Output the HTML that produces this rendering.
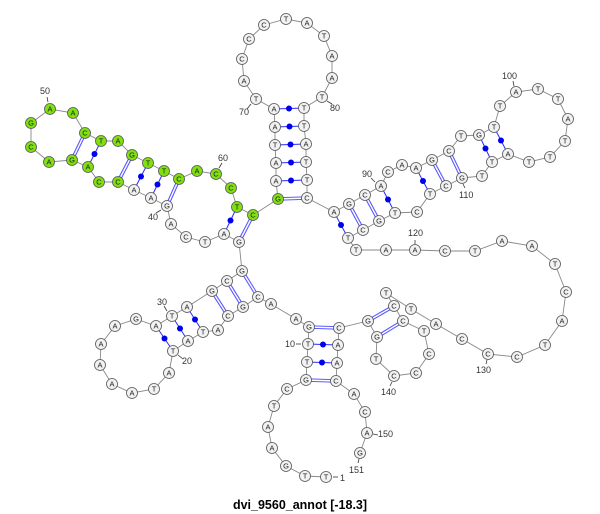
<!DOCTYPE html>
<html><head><meta charset="utf-8"><style>
html,body{margin:0;padding:0;background:#fff;}
svg{display:block;}
.n{fill:#f2f2f2;stroke:#555;stroke-width:0.8;}
.g{fill:#80e010;stroke:#555;stroke-width:0.8;}
.t{font-family:"Liberation Sans",sans-serif;font-size:7.5px;fill:#222;text-anchor:middle;}
.l{font-family:"Liberation Sans",sans-serif;font-size:9px;fill:#333;}
.bb{fill:none;stroke:#888;stroke-width:0.9;}
.d1{stroke:#5a5aff;stroke-width:3.6;}
.d2{stroke:#fff;stroke-width:1.4;}
.p{stroke:#2a2aff;stroke-width:1;}
.tk{stroke:#333;stroke-width:0.8;}
</style></head><body>
<svg width="600" height="514" viewBox="0 0 600 514" xmlns="http://www.w3.org/2000/svg">
<polyline class="bb" points="326,477 305,476 286,466 272,448 268,427 274,406 287,389 306,380 307,362 308,344 309,327 296,319 271,304 258,297 243,307 228,316 218,330 203,332 188,341 173,351 169,373 154,389 132,393 112,384 100,365 101,344 115,326 136,319 156,326 172,316 187,307 212,291 227,281 242,271 239,242 224,234 205,242 186,237 171,224 167,206 151,198 134,190 118,182 99,182 88,167 72,160 49,162 31,147 31,123 50,109 73,113 85,133 101,141 118,141 132,155 148,163 164,171 179,179 197,171 216,174 231,188 237,207 253,215 278,199 276,181 276,163 275,145 275,127 274,109 256,99 244,81 242,59 249,39 264,25 286,19 307,23 324,36 332,56 332,78 322,97 304,108 304,126 306,144 306,162 307,180 307,198 334,212 349,204 365,195 381,186 388,172 402,165 416,168 432,160 449,151 461,136 479,135 494,127 500,106 516,92 538,89 558,99 568,119 565,141 550,157 529,162 508,154 492,162 482,176 462,178 446,186 430,194 417,212 395,213 379,221 363,230 348,238 356,250 386,250 415,250 445,251 475,251 502,241 532,246 555,264 566,292 562,321 545,345 517,357 488,354 462,339 436,324 411,309 386,293 394,306 403,321 424,331 429,354 416,373 394,376 376,359 377,337 368,321 339,328 338,345 337,363 336,381 354,394 365,412 367,433 360,453"/>
<g>
<line class="d1" x1="306" y1="380" x2="336" y2="381"/><line class="d2" x1="306" y1="380" x2="336" y2="381"/>
<line class="d1" x1="309" y1="327" x2="339" y2="328"/><line class="d2" x1="309" y1="327" x2="339" y2="328"/>
<line class="d1" x1="258" y1="297" x2="242" y2="271"/><line class="d2" x1="258" y1="297" x2="242" y2="271"/>
<line class="d1" x1="243" y1="307" x2="227" y2="281"/><line class="d2" x1="243" y1="307" x2="227" y2="281"/>
<line class="d1" x1="228" y1="316" x2="212" y2="291"/><line class="d2" x1="228" y1="316" x2="212" y2="291"/>
<line class="d1" x1="239" y1="242" x2="253" y2="215"/><line class="d2" x1="239" y1="242" x2="253" y2="215"/>
<line class="d1" x1="167" y1="206" x2="179" y2="179"/><line class="d2" x1="167" y1="206" x2="179" y2="179"/>
<line class="d1" x1="118" y1="182" x2="132" y2="155"/><line class="d2" x1="118" y1="182" x2="132" y2="155"/>
<line class="d1" x1="72" y1="160" x2="85" y2="133"/><line class="d2" x1="72" y1="160" x2="85" y2="133"/>
<line class="d1" x1="278" y1="199" x2="307" y2="198"/><line class="d2" x1="278" y1="199" x2="307" y2="198"/>
<line class="d1" x1="349" y1="204" x2="363" y2="230"/><line class="d2" x1="349" y1="204" x2="363" y2="230"/>
<line class="d1" x1="365" y1="195" x2="379" y2="221"/><line class="d2" x1="365" y1="195" x2="379" y2="221"/>
<line class="d1" x1="432" y1="160" x2="446" y2="186"/><line class="d2" x1="432" y1="160" x2="446" y2="186"/>
<line class="d1" x1="449" y1="151" x2="462" y2="178"/><line class="d2" x1="449" y1="151" x2="462" y2="178"/>
<line class="d1" x1="394" y1="306" x2="368" y2="321"/><line class="d2" x1="394" y1="306" x2="368" y2="321"/>
<line class="d1" x1="403" y1="321" x2="377" y2="337"/><line class="d2" x1="403" y1="321" x2="377" y2="337"/>
</g>
<g fill="#0000ee">
<line class="p" x1="307" y1="362" x2="337" y2="363"/><circle cx="322" cy="362.5" r="3"/>
<line class="p" x1="308" y1="344" x2="338" y2="345"/><circle cx="323" cy="344.5" r="3"/>
<line class="p" x1="203" y1="332" x2="187" y2="307"/><circle cx="195" cy="319.5" r="3"/>
<line class="p" x1="188" y1="341" x2="172" y2="316"/><circle cx="180" cy="328.5" r="3"/>
<line class="p" x1="173" y1="351" x2="156" y2="326"/><circle cx="164.5" cy="338.5" r="3"/>
<line class="p" x1="224" y1="234" x2="237" y2="207"/><circle cx="230.5" cy="220.5" r="3"/>
<line class="p" x1="151" y1="198" x2="164" y2="171"/><circle cx="157.5" cy="184.5" r="3"/>
<line class="p" x1="134" y1="190" x2="148" y2="163"/><circle cx="141" cy="176.5" r="3"/>
<line class="p" x1="88" y1="167" x2="101" y2="141"/><circle cx="94.5" cy="154" r="3"/>
<line class="p" x1="276" y1="181" x2="307" y2="180"/><circle cx="291" cy="180.5" r="3"/>
<line class="p" x1="276" y1="163" x2="306" y2="162"/><circle cx="291" cy="162.5" r="3"/>
<line class="p" x1="275" y1="145" x2="306" y2="144"/><circle cx="290.5" cy="144.5" r="3"/>
<line class="p" x1="275" y1="127" x2="304" y2="126"/><circle cx="289.5" cy="126.5" r="3"/>
<line class="p" x1="274" y1="109" x2="304" y2="108"/><circle cx="289" cy="108.5" r="3"/>
<line class="p" x1="334" y1="212" x2="348" y2="238"/><circle cx="341" cy="225" r="3"/>
<line class="p" x1="381" y1="186" x2="395" y2="213"/><circle cx="388" cy="199.5" r="3"/>
<line class="p" x1="416" y1="168" x2="430" y2="194"/><circle cx="423" cy="181" r="3"/>
<line class="p" x1="479" y1="135" x2="492" y2="162"/><circle cx="485.5" cy="148.5" r="3"/>
<line class="p" x1="494" y1="127" x2="508" y2="154"/><circle cx="501" cy="140.5" r="3"/>
</g>
<g>
<circle class="n" cx="326" cy="477" r="5.5"/><text class="t" x="326" y="479.7">T</text>
<circle class="n" cx="305" cy="476" r="5.5"/><text class="t" x="305" y="478.7">T</text>
<circle class="n" cx="286" cy="466" r="5.5"/><text class="t" x="286" y="468.7">G</text>
<circle class="n" cx="272" cy="448" r="5.5"/><text class="t" x="272" y="450.7">A</text>
<circle class="n" cx="268" cy="427" r="5.5"/><text class="t" x="268" y="429.7">A</text>
<circle class="n" cx="274" cy="406" r="5.5"/><text class="t" x="274" y="408.7">T</text>
<circle class="n" cx="287" cy="389" r="5.5"/><text class="t" x="287" y="391.7">C</text>
<circle class="n" cx="306" cy="380" r="5.5"/><text class="t" x="306" y="382.7">G</text>
<circle class="n" cx="307" cy="362" r="5.5"/><text class="t" x="307" y="364.7">T</text>
<circle class="n" cx="308" cy="344" r="5.5"/><text class="t" x="308" y="346.7">T</text>
<circle class="n" cx="309" cy="327" r="5.5"/><text class="t" x="309" y="329.7">G</text>
<circle class="n" cx="296" cy="319" r="5.5"/><text class="t" x="296" y="321.7">A</text>
<circle class="n" cx="271" cy="304" r="5.5"/><text class="t" x="271" y="306.7">A</text>
<circle class="n" cx="258" cy="297" r="5.5"/><text class="t" x="258" y="299.7">C</text>
<circle class="n" cx="243" cy="307" r="5.5"/><text class="t" x="243" y="309.7">G</text>
<circle class="n" cx="228" cy="316" r="5.5"/><text class="t" x="228" y="318.7">C</text>
<circle class="n" cx="218" cy="330" r="5.5"/><text class="t" x="218" y="332.7">A</text>
<circle class="n" cx="203" cy="332" r="5.5"/><text class="t" x="203" y="334.7">T</text>
<circle class="n" cx="188" cy="341" r="5.5"/><text class="t" x="188" y="343.7">A</text>
<circle class="n" cx="173" cy="351" r="5.5"/><text class="t" x="173" y="353.7">T</text>
<circle class="n" cx="169" cy="373" r="5.5"/><text class="t" x="169" y="375.7">A</text>
<circle class="n" cx="154" cy="389" r="5.5"/><text class="t" x="154" y="391.7">T</text>
<circle class="n" cx="132" cy="393" r="5.5"/><text class="t" x="132" y="395.7">A</text>
<circle class="n" cx="112" cy="384" r="5.5"/><text class="t" x="112" y="386.7">A</text>
<circle class="n" cx="100" cy="365" r="5.5"/><text class="t" x="100" y="367.7">A</text>
<circle class="n" cx="101" cy="344" r="5.5"/><text class="t" x="101" y="346.7">A</text>
<circle class="n" cx="115" cy="326" r="5.5"/><text class="t" x="115" y="328.7">A</text>
<circle class="n" cx="136" cy="319" r="5.5"/><text class="t" x="136" y="321.7">G</text>
<circle class="n" cx="156" cy="326" r="5.5"/><text class="t" x="156" y="328.7">A</text>
<circle class="n" cx="172" cy="316" r="5.5"/><text class="t" x="172" y="318.7">T</text>
<circle class="n" cx="187" cy="307" r="5.5"/><text class="t" x="187" y="309.7">A</text>
<circle class="n" cx="212" cy="291" r="5.5"/><text class="t" x="212" y="293.7">G</text>
<circle class="n" cx="227" cy="281" r="5.5"/><text class="t" x="227" y="283.7">C</text>
<circle class="n" cx="242" cy="271" r="5.5"/><text class="t" x="242" y="273.7">G</text>
<circle class="n" cx="239" cy="242" r="5.5"/><text class="t" x="239" y="244.7">G</text>
<circle class="n" cx="224" cy="234" r="5.5"/><text class="t" x="224" y="236.7">A</text>
<circle class="n" cx="205" cy="242" r="5.5"/><text class="t" x="205" y="244.7">T</text>
<circle class="n" cx="186" cy="237" r="5.5"/><text class="t" x="186" y="239.7">C</text>
<circle class="n" cx="171" cy="224" r="5.5"/><text class="t" x="171" y="226.7">A</text>
<circle class="n" cx="167" cy="206" r="5.5"/><text class="t" x="167" y="208.7">G</text>
<circle class="n" cx="151" cy="198" r="5.5"/><text class="t" x="151" y="200.7">A</text>
<circle class="n" cx="134" cy="190" r="5.5"/><text class="t" x="134" y="192.7">A</text>
<circle class="g" cx="118" cy="182" r="5.5"/><text class="t" x="118" y="184.7">C</text>
<circle class="g" cx="99" cy="182" r="5.5"/><text class="t" x="99" y="184.7">C</text>
<circle class="g" cx="88" cy="167" r="5.5"/><text class="t" x="88" y="169.7">A</text>
<circle class="g" cx="72" cy="160" r="5.5"/><text class="t" x="72" y="162.7">G</text>
<circle class="g" cx="49" cy="162" r="5.5"/><text class="t" x="49" y="164.7">A</text>
<circle class="g" cx="31" cy="147" r="5.5"/><text class="t" x="31" y="149.7">C</text>
<circle class="g" cx="31" cy="123" r="5.5"/><text class="t" x="31" y="125.7">G</text>
<circle class="g" cx="50" cy="109" r="5.5"/><text class="t" x="50" y="111.7">A</text>
<circle class="g" cx="73" cy="113" r="5.5"/><text class="t" x="73" y="115.7">A</text>
<circle class="g" cx="85" cy="133" r="5.5"/><text class="t" x="85" y="135.7">C</text>
<circle class="g" cx="101" cy="141" r="5.5"/><text class="t" x="101" y="143.7">T</text>
<circle class="g" cx="118" cy="141" r="5.5"/><text class="t" x="118" y="143.7">A</text>
<circle class="g" cx="132" cy="155" r="5.5"/><text class="t" x="132" y="157.7">G</text>
<circle class="g" cx="148" cy="163" r="5.5"/><text class="t" x="148" y="165.7">T</text>
<circle class="g" cx="164" cy="171" r="5.5"/><text class="t" x="164" y="173.7">T</text>
<circle class="g" cx="179" cy="179" r="5.5"/><text class="t" x="179" y="181.7">C</text>
<circle class="g" cx="197" cy="171" r="5.5"/><text class="t" x="197" y="173.7">A</text>
<circle class="g" cx="216" cy="174" r="5.5"/><text class="t" x="216" y="176.7">C</text>
<circle class="g" cx="231" cy="188" r="5.5"/><text class="t" x="231" y="190.7">C</text>
<circle class="g" cx="237" cy="207" r="5.5"/><text class="t" x="237" y="209.7">T</text>
<circle class="g" cx="253" cy="215" r="5.5"/><text class="t" x="253" y="217.7">C</text>
<circle class="g" cx="278" cy="199" r="5.5"/><text class="t" x="278" y="201.7">G</text>
<circle class="n" cx="276" cy="181" r="5.5"/><text class="t" x="276" y="183.7">A</text>
<circle class="n" cx="276" cy="163" r="5.5"/><text class="t" x="276" y="165.7">A</text>
<circle class="n" cx="275" cy="145" r="5.5"/><text class="t" x="275" y="147.7">T</text>
<circle class="n" cx="275" cy="127" r="5.5"/><text class="t" x="275" y="129.7">A</text>
<circle class="n" cx="274" cy="109" r="5.5"/><text class="t" x="274" y="111.7">A</text>
<circle class="n" cx="256" cy="99" r="5.5"/><text class="t" x="256" y="101.7">T</text>
<circle class="n" cx="244" cy="81" r="5.5"/><text class="t" x="244" y="83.7">A</text>
<circle class="n" cx="242" cy="59" r="5.5"/><text class="t" x="242" y="61.7">C</text>
<circle class="n" cx="249" cy="39" r="5.5"/><text class="t" x="249" y="41.7">C</text>
<circle class="n" cx="264" cy="25" r="5.5"/><text class="t" x="264" y="27.7">C</text>
<circle class="n" cx="286" cy="19" r="5.5"/><text class="t" x="286" y="21.7">T</text>
<circle class="n" cx="307" cy="23" r="5.5"/><text class="t" x="307" y="25.7">A</text>
<circle class="n" cx="324" cy="36" r="5.5"/><text class="t" x="324" y="38.7">T</text>
<circle class="n" cx="332" cy="56" r="5.5"/><text class="t" x="332" y="58.7">A</text>
<circle class="n" cx="332" cy="78" r="5.5"/><text class="t" x="332" y="80.7">A</text>
<circle class="n" cx="322" cy="97" r="5.5"/><text class="t" x="322" y="99.7">T</text>
<circle class="n" cx="304" cy="108" r="5.5"/><text class="t" x="304" y="110.7">T</text>
<circle class="n" cx="304" cy="126" r="5.5"/><text class="t" x="304" y="128.7">T</text>
<circle class="n" cx="306" cy="144" r="5.5"/><text class="t" x="306" y="146.7">A</text>
<circle class="n" cx="306" cy="162" r="5.5"/><text class="t" x="306" y="164.7">T</text>
<circle class="n" cx="307" cy="180" r="5.5"/><text class="t" x="307" y="182.7">T</text>
<circle class="n" cx="307" cy="198" r="5.5"/><text class="t" x="307" y="200.7">C</text>
<circle class="n" cx="334" cy="212" r="5.5"/><text class="t" x="334" y="214.7">A</text>
<circle class="n" cx="349" cy="204" r="5.5"/><text class="t" x="349" y="206.7">G</text>
<circle class="n" cx="365" cy="195" r="5.5"/><text class="t" x="365" y="197.7">C</text>
<circle class="n" cx="381" cy="186" r="5.5"/><text class="t" x="381" y="188.7">A</text>
<circle class="n" cx="388" cy="172" r="5.5"/><text class="t" x="388" y="174.7">C</text>
<circle class="n" cx="402" cy="165" r="5.5"/><text class="t" x="402" y="167.7">A</text>
<circle class="n" cx="416" cy="168" r="5.5"/><text class="t" x="416" y="170.7">A</text>
<circle class="n" cx="432" cy="160" r="5.5"/><text class="t" x="432" y="162.7">G</text>
<circle class="n" cx="449" cy="151" r="5.5"/><text class="t" x="449" y="153.7">C</text>
<circle class="n" cx="461" cy="136" r="5.5"/><text class="t" x="461" y="138.7">T</text>
<circle class="n" cx="479" cy="135" r="5.5"/><text class="t" x="479" y="137.7">G</text>
<circle class="n" cx="494" cy="127" r="5.5"/><text class="t" x="494" y="129.7">T</text>
<circle class="n" cx="500" cy="106" r="5.5"/><text class="t" x="500" y="108.7">T</text>
<circle class="n" cx="516" cy="92" r="5.5"/><text class="t" x="516" y="94.7">A</text>
<circle class="n" cx="538" cy="89" r="5.5"/><text class="t" x="538" y="91.7">T</text>
<circle class="n" cx="558" cy="99" r="5.5"/><text class="t" x="558" y="101.7">T</text>
<circle class="n" cx="568" cy="119" r="5.5"/><text class="t" x="568" y="121.7">A</text>
<circle class="n" cx="565" cy="141" r="5.5"/><text class="t" x="565" y="143.7">T</text>
<circle class="n" cx="550" cy="157" r="5.5"/><text class="t" x="550" y="159.7">T</text>
<circle class="n" cx="529" cy="162" r="5.5"/><text class="t" x="529" y="164.7">T</text>
<circle class="n" cx="508" cy="154" r="5.5"/><text class="t" x="508" y="156.7">A</text>
<circle class="n" cx="492" cy="162" r="5.5"/><text class="t" x="492" y="164.7">T</text>
<circle class="n" cx="482" cy="176" r="5.5"/><text class="t" x="482" y="178.7">T</text>
<circle class="n" cx="462" cy="178" r="5.5"/><text class="t" x="462" y="180.7">G</text>
<circle class="n" cx="446" cy="186" r="5.5"/><text class="t" x="446" y="188.7">C</text>
<circle class="n" cx="430" cy="194" r="5.5"/><text class="t" x="430" y="196.7">T</text>
<circle class="n" cx="417" cy="212" r="5.5"/><text class="t" x="417" y="214.7">C</text>
<circle class="n" cx="395" cy="213" r="5.5"/><text class="t" x="395" y="215.7">T</text>
<circle class="n" cx="379" cy="221" r="5.5"/><text class="t" x="379" y="223.7">G</text>
<circle class="n" cx="363" cy="230" r="5.5"/><text class="t" x="363" y="232.7">C</text>
<circle class="n" cx="348" cy="238" r="5.5"/><text class="t" x="348" y="240.7">T</text>
<circle class="n" cx="356" cy="250" r="5.5"/><text class="t" x="356" y="252.7">T</text>
<circle class="n" cx="386" cy="250" r="5.5"/><text class="t" x="386" y="252.7">A</text>
<circle class="n" cx="415" cy="250" r="5.5"/><text class="t" x="415" y="252.7">A</text>
<circle class="n" cx="445" cy="251" r="5.5"/><text class="t" x="445" y="253.7">C</text>
<circle class="n" cx="475" cy="251" r="5.5"/><text class="t" x="475" y="253.7">T</text>
<circle class="n" cx="502" cy="241" r="5.5"/><text class="t" x="502" y="243.7">A</text>
<circle class="n" cx="532" cy="246" r="5.5"/><text class="t" x="532" y="248.7">A</text>
<circle class="n" cx="555" cy="264" r="5.5"/><text class="t" x="555" y="266.7">T</text>
<circle class="n" cx="566" cy="292" r="5.5"/><text class="t" x="566" y="294.7">C</text>
<circle class="n" cx="562" cy="321" r="5.5"/><text class="t" x="562" y="323.7">A</text>
<circle class="n" cx="545" cy="345" r="5.5"/><text class="t" x="545" y="347.7">T</text>
<circle class="n" cx="517" cy="357" r="5.5"/><text class="t" x="517" y="359.7">C</text>
<circle class="n" cx="488" cy="354" r="5.5"/><text class="t" x="488" y="356.7">C</text>
<circle class="n" cx="462" cy="339" r="5.5"/><text class="t" x="462" y="341.7">C</text>
<circle class="n" cx="436" cy="324" r="5.5"/><text class="t" x="436" y="326.7">A</text>
<circle class="n" cx="411" cy="309" r="5.5"/><text class="t" x="411" y="311.7">T</text>
<circle class="n" cx="386" cy="293" r="5.5"/><text class="t" x="386" y="295.7">T</text>
<circle class="n" cx="394" cy="306" r="5.5"/><text class="t" x="394" y="308.7">C</text>
<circle class="n" cx="403" cy="321" r="5.5"/><text class="t" x="403" y="323.7">C</text>
<circle class="n" cx="424" cy="331" r="5.5"/><text class="t" x="424" y="333.7">T</text>
<circle class="n" cx="429" cy="354" r="5.5"/><text class="t" x="429" y="356.7">C</text>
<circle class="n" cx="416" cy="373" r="5.5"/><text class="t" x="416" y="375.7">C</text>
<circle class="n" cx="394" cy="376" r="5.5"/><text class="t" x="394" y="378.7">C</text>
<circle class="n" cx="376" cy="359" r="5.5"/><text class="t" x="376" y="361.7">T</text>
<circle class="n" cx="377" cy="337" r="5.5"/><text class="t" x="377" y="339.7">G</text>
<circle class="n" cx="368" cy="321" r="5.5"/><text class="t" x="368" y="323.7">G</text>
<circle class="n" cx="339" cy="328" r="5.5"/><text class="t" x="339" y="330.7">C</text>
<circle class="n" cx="338" cy="345" r="5.5"/><text class="t" x="338" y="347.7">A</text>
<circle class="n" cx="337" cy="363" r="5.5"/><text class="t" x="337" y="365.7">A</text>
<circle class="n" cx="336" cy="381" r="5.5"/><text class="t" x="336" y="383.7">C</text>
<circle class="n" cx="354" cy="394" r="5.5"/><text class="t" x="354" y="396.7">A</text>
<circle class="n" cx="365" cy="412" r="5.5"/><text class="t" x="365" y="414.7">C</text>
<circle class="n" cx="367" cy="433" r="5.5"/><text class="t" x="367" y="435.7">A</text>
<circle class="n" cx="360" cy="453" r="5.5"/><text class="t" x="360" y="455.7">G</text>
</g>
<g>
<line class="tk" x1="333" y1="477" x2="338" y2="477"/><text class="l" x="340" y="481">1</text>
<line class="tk" x1="296" y1="344" x2="301" y2="344"/><text class="l" x="285" y="347">10</text>
<line class="tk" x1="178" y1="355" x2="183" y2="359"/><text class="l" x="182" y="364">20</text>
<line class="tk" x1="167" y1="311" x2="164" y2="306"/><text class="l" x="157" y="305">30</text>
<line class="tk" x1="161" y1="210" x2="156" y2="213"/><text class="l" x="148" y="220">40</text>
<line class="tk" x1="48" y1="102" x2="47" y2="97"/><text class="l" x="40" y="94">50</text>
<line class="tk" x1="219" y1="168" x2="222" y2="163"/><text class="l" x="218" y="161">60</text>
<line class="tk" x1="251" y1="104" x2="247" y2="109"/><text class="l" x="239" y="115">70</text>
<line class="tk" x1="327" y1="101" x2="332" y2="104"/><text class="l" x="330" y="111">80</text>
<line class="tk" x1="375" y1="182" x2="371" y2="178"/><text class="l" x="362" y="177">90</text>
<line class="tk" x1="514" y1="86" x2="513" y2="81"/><text class="l" x="502" y="79">100</text>
<line class="tk" x1="463" y1="184" x2="465" y2="188"/><text class="l" x="459" y="198">110</text>
<line class="tk" x1="415" y1="244" x2="415" y2="240"/><text class="l" x="408" y="236">120</text>
<line class="tk" x1="487" y1="360" x2="486" y2="364"/><text class="l" x="476" y="373">130</text>
<line class="tk" x1="392" y1="382" x2="390" y2="386"/><text class="l" x="381" y="395">140</text>
<line class="tk" x1="373" y1="434" x2="378" y2="435"/><text class="l" x="378" y="437">150</text>
<line class="tk" x1="359" y1="459" x2="358" y2="463"/><text class="l" x="349" y="473">151</text>
</g>
<text x="300" y="509" text-anchor="middle" font-family="'Liberation Sans',sans-serif" font-size="12.5" font-weight="bold" fill="#000">dvi_9560_annot [-18.3]</text>
</svg>
</body></html>
